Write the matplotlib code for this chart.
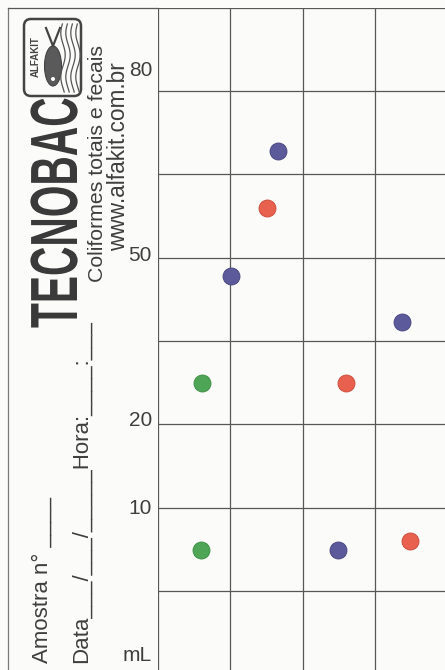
import numpy as np
import matplotlib
matplotlib.use("Agg")
import matplotlib.pyplot as plt
from matplotlib.patches import FancyBboxPatch, Ellipse
from matplotlib.patheffects import AbstractPathEffect
from matplotlib.transforms import Affine2D, blended_transform_factory

# ---- data (grid cell units: columns 0..4, rows 0..8) ----
blue_x = [1.66, 1.01, 3.38, 2.49]
blue_y = [6.28, 4.78, 4.23, 1.49]
red_x = [1.51, 2.60, 3.49]
red_y = [5.60, 3.50, 1.60]
green_x = [0.61, 0.60]
green_y = [3.50, 1.49]
tick_labels = ["80", "50", "20", "10", "mL"]
tick_pos = [7.25, 5.03, 3.04, 1.99, 0.22]
n_cols = 4
n_rows = 8

BLUE = "#5c5a9b"
RED = "#e8604e"
GREEN = "#4ea556"
TXT = "#3f3f3f"
GRID = "#575757"
PAPER = "#fbfbf9"


class Stretch(AbstractPathEffect):
    """Draw text stretched perpendicular to its baseline (condensed look)."""
    def __init__(self, sx=1.0, sy=1.0):
        super().__init__()
        self.sx, self.sy = sx, sy

    def draw_path(self, renderer, gc, tpath, affine, rgbFace=None):
        renderer.draw_path(gc, tpath, Affine2D().scale(self.sx, self.sy) + affine, rgbFace)


W, H = 445, 670
fig = plt.figure(figsize=(W / 100, H / 100), dpi=100, facecolor=PAPER)

# background / decoration layer in pixel coordinates
bg = fig.add_axes([0, 0, 1, 1])
bg.set_xlim(0, W)
bg.set_ylim(H, 0)
bg.axis("off")
bg.set_facecolor(PAPER)

# chart grid
ax = fig.add_axes([158 / W, -4 / H, 289 / W, 666 / H])
ax.set_xlim(0, n_cols)
ax.set_ylim(0, n_rows)
ax.patch.set_alpha(0)
ax.set_xticks(range(n_cols + 1))
ax.set_yticks(range(n_rows + 1))
ax.grid(True, color=GRID, lw=0.9)
ax.tick_params(length=0, labelbottom=False, labelleft=False)
for s in ax.spines.values():
    s.set_visible(False)
ax.set_axisbelow(True)

ms = 150
ax.scatter(blue_x, blue_y, s=ms, c=BLUE, edgecolors="#46447c", linewidths=0.6, zorder=3, clip_on=False)
ax.scatter(red_x, red_y, s=ms, c=RED, edgecolors="#c84a3b", linewidths=0.6, zorder=3, clip_on=False)
ax.scatter(green_x, green_y, s=ms, c=GREEN, edgecolors="#3b8c45", linewidths=0.6, zorder=3, clip_on=False)

# y labels at the left of the grid
tr = blended_transform_factory(ax.transAxes, ax.transData)
for lab, yp in zip(tick_labels, tick_pos):
    ax.annotate(lab, xy=(0, yp), xycoords=tr, xytext=(-6, 0), textcoords="offset pixels",
                ha="right", va="center", fontsize=15, color=TXT, family="Liberation Sans")

# outer frame of the card
bg.plot([8, 8], [8, H], color="#7a7a7a", lw=0.9)
bg.plot([8, 158], [8, 8], color=GRID, lw=0.9)

# title block
bg.text(77, 328, "TECNOBAC", rotation=90, rotation_mode="anchor", ha="left", va="baseline",
        fontsize=29.3, fontweight="bold", family="Liberation Sans", color="#3a3a3a",
        path_effects=[Stretch(1.0, 1.64)])
bg.text(103, 164, "Coliformes totais e fecais", rotation=90, rotation_mode="anchor",
        ha="center", va="baseline", fontsize=15.3, family="Liberation Sans", color=TXT)
bg.text(125, 157, "www.alfakit.com.br", rotation=90, rotation_mode="anchor",
        ha="center", va="baseline", fontsize=16.3, family="Liberation Sans", color=TXT)
bg.text(48, 663, "Amostra n° ____", rotation=90, rotation_mode="anchor",
        ha="left", va="baseline", fontsize=16, family="Liberation Sans", color=TXT)
bg.text(87, 663, "Data___/___/_____Hora:____:___", rotation=90, rotation_mode="anchor",
        ha="left", va="baseline", fontsize=16, family="Liberation Sans", color=TXT)

# logo
bg.add_patch(FancyBboxPatch((24, 19), 57, 77, boxstyle="round,pad=0,rounding_size=7",
                            fc="none", ec="#444444", lw=1.8))
bg.text(36, 57, "ALFAKIT", rotation=90, ha="center", va="center", fontsize=7,
        fontweight="bold", family="Liberation Sans", color="#444444")
bg.add_patch(Ellipse((53, 66), 17, 40, fc="#5a5a5a", ec="#444444", lw=0.8))
bg.plot([53, 46], [46, 28], color="#444444", lw=1.6)
bg.plot([53, 60], [46, 28], color="#444444", lw=1.6)
bg.add_patch(Ellipse((53, 79), 4, 4, fc="white", ec="none"))
yy = np.linspace(24, 92, 60)
for base in (63, 68, 73, 78):
    bg.plot(base + 2.2 * np.sin(yy / 7.0), yy, color="#555555", lw=0.9)

fig.savefig("out.png", dpi=100, facecolor=PAPER)
